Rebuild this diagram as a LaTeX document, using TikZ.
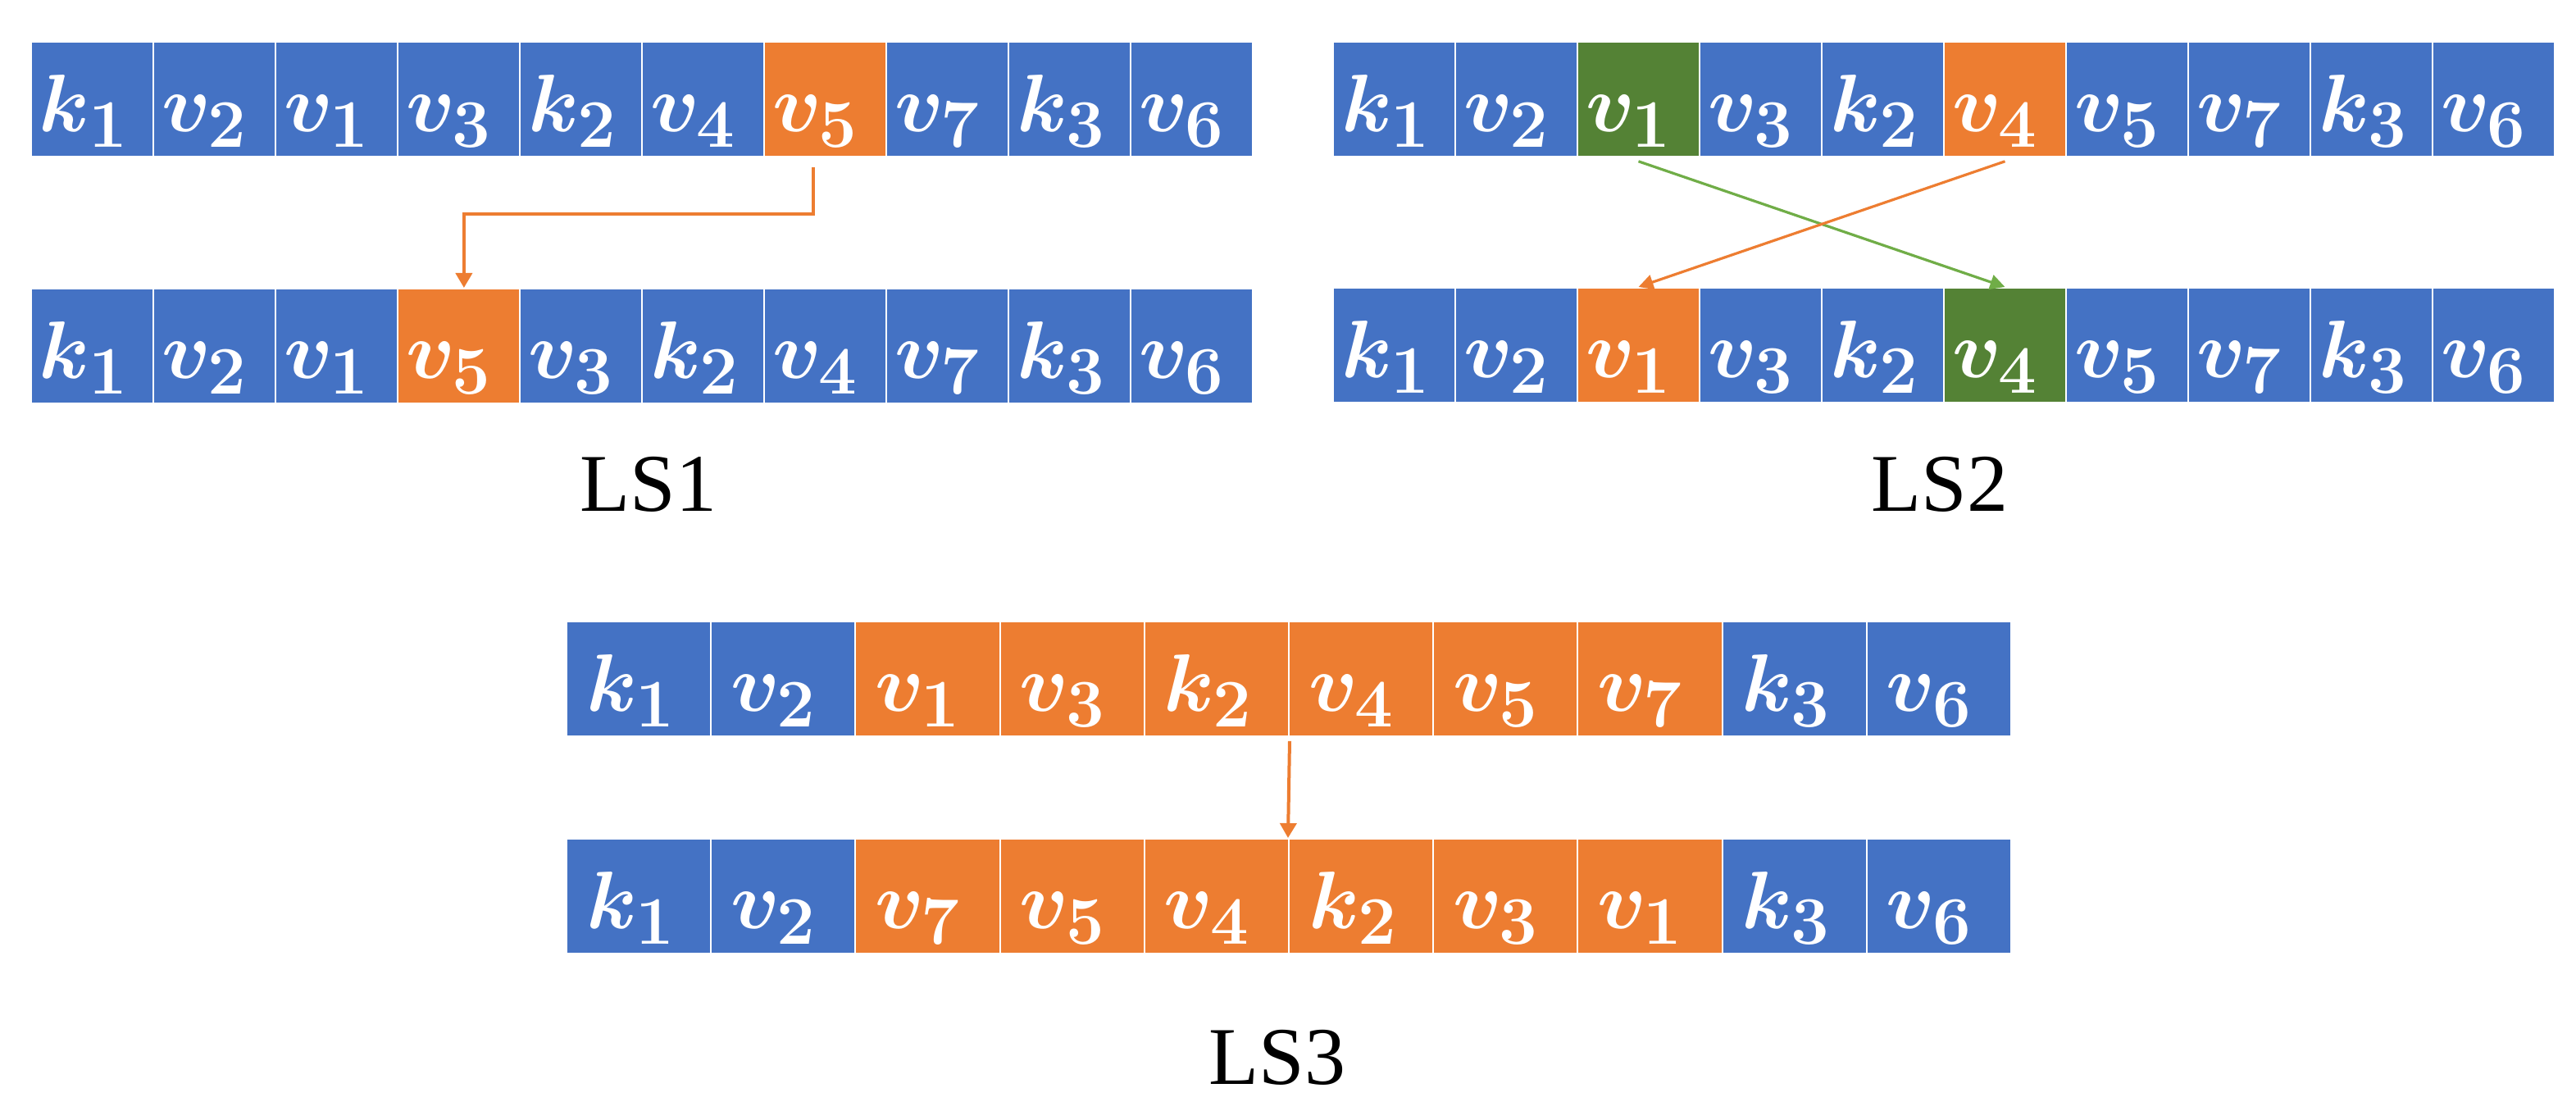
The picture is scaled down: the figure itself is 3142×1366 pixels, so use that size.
\documentclass[tikz,border=0pt]{standalone}
\usepackage{fontspec}
\newfontfamily\timesfont{Liberation Serif}
\usetikzlibrary{arrows.meta}
\definecolor{cb}{HTML}{4472C4}
\definecolor{co}{HTML}{ED7D31}
\definecolor{cg}{HTML}{548235}
\definecolor{cgl}{HTML}{70AD47}
\tikzset{
  cellbase/.style={draw=white, line width=0.5pt, inner ysep=0pt, align=left,
    text height=27.5pt, text depth=7.5pt, text=white,
    font=\fontsize{28}{32}\selectfont\boldmath, anchor=north west},
  cellS/.style={cellbase, inner xsep=2.5pt, text width=32.25pt},
  cellL/.style={cellbase, inner xsep=6pt, text width=32.05pt},
  lbl/.style={font=\timesfont\fontsize{25}{30}\selectfont, anchor=base, inner sep=0pt},
  oarrow/.style={draw=co, line width=1pt, -{Triangle[width=5pt,length=4.5pt]}},
  garrow/.style={draw=cgl, line width=0.8pt, -{Triangle[width=4.5pt,length=4.5pt]}},
}
\newcommand{\cellrow}[6]{%
  \foreach \l/\s/\c [count=\i] in {#6} {
    \node[#5, fill=\c] (#1\i) at ({#2+(\i-1)*#4},#3) {$\l_{\s}$};
  }}
\begin{document}
\begin{tikzpicture}[x=0.25pt,y=-0.25pt]
\useasboundingbox (0,0) rectangle (3142,1366);
% LS1
\cellrow{a}{37}{50}{149}{cellS}{k/1/cb,v/2/cb,v/1/cb,v/3/cb,k/2/cb,v/4/cb,v/5/co,v/7/cb,k/3/cb,v/6/cb}
\cellrow{b}{37}{351}{149}{cellS}{k/1/cb,v/2/cb,v/1/cb,v/5/co,v/3/cb,k/2/cb,v/4/cb,v/7/cb,k/3/cb,v/6/cb}
% LS2
\cellrow{c}{1625}{50}{149}{cellS}{k/1/cb,v/2/cb,v/1/cg,v/3/cb,k/2/cb,v/4/co,v/5/cb,v/7/cb,k/3/cb,v/6/cb}
\cellrow{d}{1625}{350}{149}{cellS}{k/1/cb,v/2/cb,v/1/co,v/3/cb,k/2/cb,v/4/cg,v/5/cb,v/7/cb,k/3/cb,v/6/cb}
% LS3
\cellrow{e}{690}{757}{176.2}{cellL}{k/1/cb,v/2/cb,v/1/co,v/3/co,k/2/co,v/4/co,v/5/co,v/7/co,k/3/cb,v/6/cb}
\cellrow{f}{690}{1022}{176.2}{cellL}{k/1/cb,v/2/cb,v/7/co,v/5/co,v/4/co,k/2/co,v/3/co,v/1/co,k/3/cb,v/6/cb}
% arrows
\draw[oarrow] ([xshift=-3.6pt,yshift=-3pt]a7.south) -- ++(0,57) -| ([xshift=1.6pt]b4.north);
\draw[garrow] ([yshift=-1.2pt]c3.south) -- (d6.north);
\draw[oarrow, line width=0.8pt, -{Triangle[width=4.5pt,length=4.5pt]}] ([yshift=-1.2pt]c6.south) -- (d3.north);
\draw[oarrow] ([yshift=-1.2pt]e5.south east) -- (f6.north west);
% labels
\node[lbl] (ls1) at (791,624) {LS1};
\node[lbl] (ls2) at (2366,624) {LS2};
\node[lbl] (ls3) at (1558,1323) {LS3};
\end{tikzpicture}
\end{document}
